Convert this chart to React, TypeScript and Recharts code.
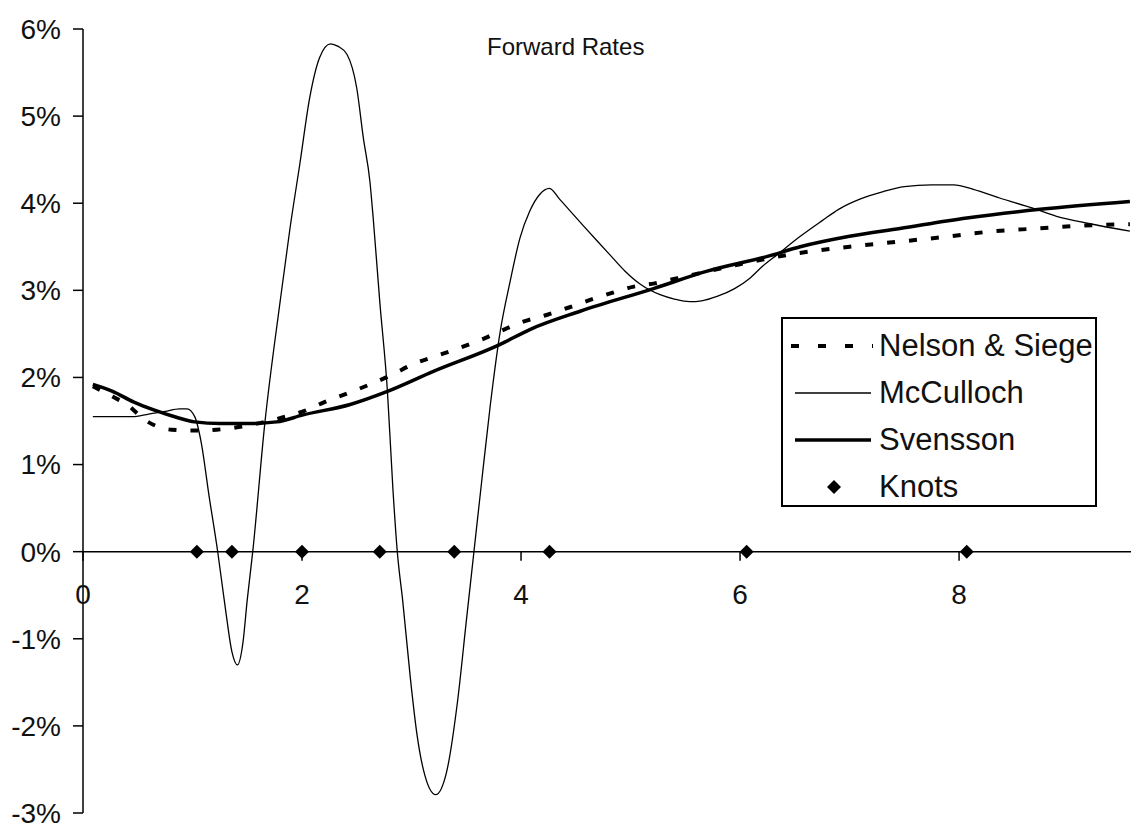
import React from "react";
import {
  ComposedChart,
  Line,
  Scatter,
  XAxis,
  YAxis,
  ReferenceLine,
} from "recharts";

// maturities (years) and forward rates (%)
const nelsonMaturity = [
  0.09, 0.27, 0.4, 0.58, 0.81, 1.02, 1.22, 1.42, 1.82, 2.01, 2.21, 2.42, 2.62,
  2.82, 3.01, 3.21, 3.42, 3.63, 4.02, 4.24, 4.43, 4.63, 4.83, 5.02, 5.22, 5.43,
  6.0, 6.5, 7.0, 7.46, 7.85, 8.25, 8.71, 9.26, 9.56,
];
const nelsonRate = [
  1.9, 1.78, 1.69, 1.5, 1.4, 1.39, 1.4, 1.43, 1.54, 1.61, 1.72, 1.82, 1.92,
  2.03, 2.15, 2.24, 2.33, 2.43, 2.64, 2.72, 2.8, 2.89, 2.97, 3.04, 3.08, 3.14,
  3.3, 3.42, 3.5, 3.56, 3.61, 3.67, 3.71, 3.75, 3.76,
];

const mccullochMaturity = [
  0.09, 0.3, 0.45, 0.6, 0.75, 0.88, 0.95, 1.02, 1.08, 1.15, 1.23, 1.3, 1.36,
  1.41, 1.46, 1.5, 1.55, 1.66, 1.8, 1.89, 1.98, 2.07, 2.16, 2.26, 2.33, 2.41,
  2.5, 2.56, 2.62, 2.65, 2.71, 2.78, 2.83, 2.87, 2.92, 2.99, 3.05, 3.12, 3.22,
  3.32, 3.42, 3.5, 3.57, 3.64, 3.72, 3.81, 3.9, 3.99, 4.08, 4.17, 4.26, 4.35,
  4.47, 4.57, 4.7, 4.81, 4.95, 5.09, 5.27, 5.4, 5.54, 5.65, 5.79, 5.95, 6.09,
  6.2, 6.34, 6.55, 6.75, 6.9, 7.1, 7.3, 7.5, 7.75, 7.95, 8.13, 8.37, 8.68,
  8.89, 9.17, 9.56,
];
const mccullochRate = [
  1.55, 1.55, 1.55, 1.58, 1.61, 1.64, 1.64, 1.55, 1.25, 0.65, 0.0, -0.65,
  -1.15, -1.3, -1.05, -0.55, 0.0, 1.47, 2.87, 3.71, 4.45, 5.21, 5.67, 5.83,
  5.8, 5.71, 5.32, 4.75, 4.25, 3.83, 2.87, 1.84, 0.72, 0.0, -0.57, -1.46,
  -2.1, -2.56, -2.79, -2.53, -1.72, -0.8, 0.0, 0.8, 1.69, 2.53, 3.1, 3.6,
  3.91, 4.1, 4.17, 4.05, 3.88, 3.74, 3.56, 3.41, 3.22, 3.07, 2.95, 2.9, 2.87,
  2.88, 2.93, 3.02, 3.14, 3.27, 3.41, 3.62, 3.8, 3.93, 4.05, 4.13, 4.19,
  4.21, 4.21, 4.16, 4.06, 3.94, 3.85, 3.77, 3.68,
];

const svenssonMaturity = [
  0.09, 0.27, 0.46, 0.64, 0.86, 1.02, 1.25, 1.5, 1.77, 2.01, 2.44, 2.78, 3.2,
  3.81, 4.08, 4.54, 5.21, 5.7, 6.25, 6.55, 7.0, 7.46, 8.07, 8.74, 9.56,
];
const svenssonRate = [
  1.92, 1.84, 1.72, 1.63, 1.54, 1.49, 1.47, 1.47, 1.49, 1.57, 1.69, 1.84,
  2.07, 2.38, 2.55, 2.76, 3.02, 3.22, 3.39, 3.5, 3.62, 3.71, 3.83, 3.93,
  4.02,
];

const knotMaturity = [1.04, 1.36, 2.0, 2.71, 3.39, 4.26, 6.06, 8.07];
const knotRate = [0, 0, 0, 0, 0, 0, 0, 0];

const xTicks = [0, 2, 4, 6, 8];
const yTicks = [-3, -2, -1, 0, 1, 2, 3, 4, 5, 6];

const toPoints = (xs: number[], ys: number[]) =>
  xs.map((x, i) => ({ x, y: ys[i] }));

const FONT = "'Liberation Sans', Arial, sans-serif";
const Y_MIN = -3;
const Y_MAX = 6;
const PLOT_TOP = 29;
const PLOT_H = 784;
// x axis crosses at 0%, so move the x ticks up from the plot bottom
const ZERO_SHIFT = (PLOT_H * (0 - Y_MIN)) / (Y_MAX - Y_MIN);

const XTick = (props: any) => {
  const { x, y, payload } = props;
  const y0 = y - ZERO_SHIFT;
  return (
    <g>
      <line x1={x} x2={x} y1={y0} y2={y0 + 9} stroke="#000" strokeWidth={1.5} />
      <text
        x={x}
        y={y0 + 52}
        textAnchor="middle"
        fontSize={28}
        fontFamily={FONT}
        fill="#111"
      >
        {payload.value}
      </text>
    </g>
  );
};

const Diamond = (props: any) => {
  const { cx, cy } = props;
  const r = 7;
  return (
    <path
      d={`M${cx},${cy - r}L${cx + r},${cy}L${cx},${cy + r}L${cx - r},${cy}Z`}
      fill="#000"
    />
  );
};

// legend label kept as it reads in the picture
const legendRows = [
  { name: "Nelson & Siege", kind: "dash" },
  { name: "McCulloch", kind: "thin" },
  { name: "Svensson", kind: "thick" },
  { name: "Knots", kind: "knot" },
];

const LegendBox = () => (
  <div
    style={{
      position: "absolute",
      left: 781,
      top: 317,
      width: 312,
      height: 186,
      border: "2px solid #000",
      background: "#fff",
      fontFamily: FONT,
      fontSize: 31,
      color: "#111",
    }}
  >
    {legendRows.map((row, i) => (
      <div
        key={row.name}
        style={{
          position: "absolute",
          left: 0,
          top: 3 + i * 47,
          height: 47,
          display: "flex",
          alignItems: "center",
          whiteSpace: "nowrap",
        }}
      >
        <svg width={92} height={20} style={{ marginLeft: 4 }}>
          {row.kind === "dash" && (
            <line x1={4} x2={86} y1={10} y2={10} stroke="#000" strokeWidth={4} strokeDasharray="8 19" />
          )}
          {row.kind === "thin" && (
            <line x1={8} x2={84} y1={10} y2={10} stroke="#000" strokeWidth={1.3} />
          )}
          {row.kind === "thick" && (
            <line x1={8} x2={84} y1={10} y2={10} stroke="#000" strokeWidth={3.5} />
          )}
          {row.kind === "knot" && <path d="M47,3L54,10L47,17L40,10Z" fill="#000" />}
        </svg>
        <span>{row.name}</span>
      </div>
    ))}
  </div>
);

export default function App() {
  return (
    <div
      style={{
        position: "absolute",
        left: 0,
        top: 0,
        width: 1131,
        height: 828,
        background: "#fff",
      }}
    >
      <ComposedChart
        width={1131}
        height={828}
        margin={{ top: PLOT_TOP, right: 0, left: 0, bottom: 0 }}
      >
        <XAxis
          dataKey="x"
          type="number"
          domain={[0, 9.57]}
          ticks={xTicks}
          interval={0}
          allowDataOverflow
          axisLine={false}
          tickLine={false}
          tickSize={0}
          tickMargin={0}
          height={15}
          tick={<XTick />}
        />
        <YAxis
          dataKey="y"
          type="number"
          domain={[Y_MIN, Y_MAX]}
          ticks={yTicks}
          interval={0}
          allowDataOverflow
          width={83}
          tickSize={10}
          tickMargin={12}
          tickFormatter={(v: number) => `${v}%`}
          axisLine={{ stroke: "#000", strokeWidth: 1.5 }}
          tickLine={{ stroke: "#000", strokeWidth: 1.5 }}
          tick={{ fill: "#111", fontSize: 28, fontFamily: FONT }}
        />
        <ReferenceLine y={0} stroke="#000" strokeWidth={1.5} />
        <Line
          data={toPoints(nelsonMaturity, nelsonRate)}
          dataKey="y"
          type="monotone"
          stroke="#000"
          strokeWidth={4}
          strokeDasharray="8 14"
          dot={false}
          isAnimationActive={false}
        />
        <Line
          data={toPoints(mccullochMaturity, mccullochRate)}
          dataKey="y"
          type="monotone"
          stroke="#000"
          strokeWidth={1.3}
          dot={false}
          isAnimationActive={false}
        />
        <Line
          data={toPoints(svenssonMaturity, svenssonRate)}
          dataKey="y"
          type="monotone"
          stroke="#000"
          strokeWidth={3.5}
          dot={false}
          isAnimationActive={false}
        />
        <Scatter
          data={toPoints(knotMaturity, knotRate)}
          dataKey="y"
          shape={<Diamond />}
          isAnimationActive={false}
        />
      </ComposedChart>
      <div
        style={{
          position: "absolute",
          left: 487,
          top: 35,
          fontFamily: FONT,
          fontSize: 24,
          lineHeight: "24px",
          color: "#111",
          whiteSpace: "nowrap",
        }}
      >
        Forward Rates
      </div>
      <LegendBox />
    </div>
  );
}
